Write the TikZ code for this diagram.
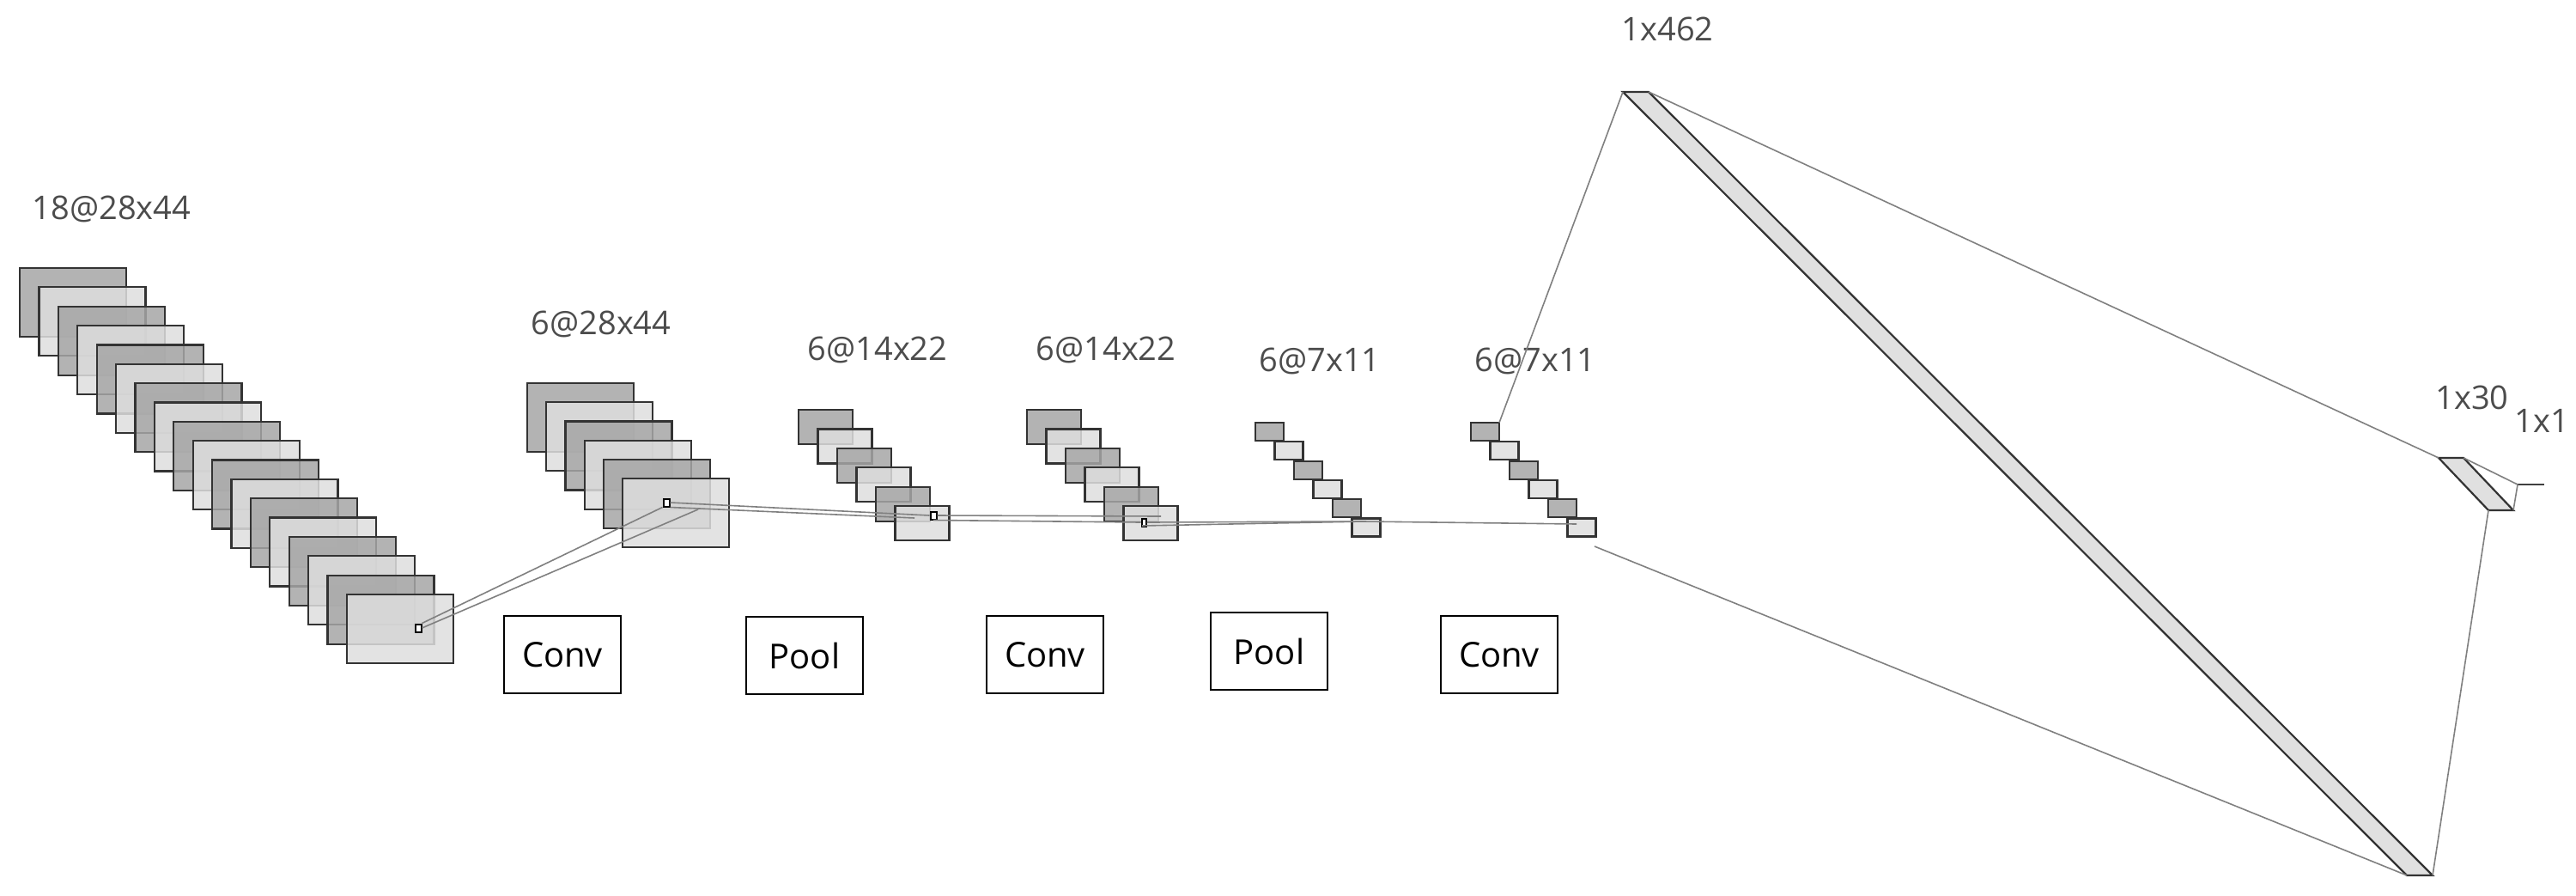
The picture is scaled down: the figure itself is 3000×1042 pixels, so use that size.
\documentclass[tikz,border=0pt]{standalone}
\usepackage{fontspec}
\setmainfont{Open Sans}
\begin{document}
\begin{tikzpicture}[x=1pt,y=-1pt,
  fm/.style={draw=black!80,line width=2.2pt,inner sep=0,outer sep=0,anchor=north west,fill opacity=0.85},
  dk/.style={fm,fill=black!35},
  lt/.style={fm,fill=black!13},
  lab/.style={text=black!70,font=\fontsize{38}{44}\selectfont},
  op/.style={draw=black,line width=2pt,minimum width=136pt,minimum height=90pt,font=\fontsize{40}{46}\selectfont,inner sep=0},
  cn/.style={draw=black!50,line width=1.6pt},
  sq/.style={draw=black,line width=2pt,inner sep=0,minimum width=7pt,minimum height=9pt,fill=white}]
\useasboundingbox (0,0) rectangle (3000,1042);
\newcommand{\fmap}[9]{%
  \foreach \i in {0,...,#2}{%
    \ifodd\i\relax
      \node[lt,minimum width=#7pt,minimum height=#8pt] (#1-\i) at ({#3+#5*\i},{#4+#6*\i}) {};
    \else
      \node[#9,minimum width=#7pt,minimum height=#8pt] (#1-\i) at ({#3+#5*\i},{#4+#6*\i}) {};
    \fi}}
\fmap{a}{17}{23}{312}{22.4}{22.35}{124}{80}{dk}
\fmap{b}{5}{614}{446}{22.2}{22.2}{124}{80}{dk}
\fmap{c}{5}{930}{477}{22.5}{22.4}{63}{40}{dk}
\fmap{d}{5}{1196}{477}{22.5}{22.4}{63}{40}{dk}
\fmap{e}{5}{1462}{492}{22.5}{22.3}{33}{21}{dk}
\fmap{f}{5}{1713}{492}{22.5}{22.3}{33}{21}{dk}
\node[lab] (la) at (130,243) {18@28x44};
\node[lab] (lb) at (700,377) {6@28x44};
\node[lab] (lc) at (1022,407) {6@14x22};
\node[lab] (ld) at (1288,407) {6@14x22};
\node[lab] (le) at (1537,420) {6@7x11};
\node[lab] (lf) at (1788,420) {6@7x11};
\node[lab] (lg) at (1942,34) {1x462};
\node[lab] (lh) at (2879,463) {1x30};
\node[lab] (li) at (2960,490) {1x1};
% kernel squares
\node[sq] (sa) at (487,731) {};
\node[sq] (sb) at (776,585) {};
\node[sq] (sc) at (1087,600) {};
\node[sq,minimum width=5pt] (sd) at (1332,608) {};
\coordinate (pb) at (813,593);
\coordinate (pc) at (1065,603);
\coordinate (pd) at (1352,601);
\coordinate (pe) at (1588,607);
\coordinate (pf) at (1836,610);
\draw[cn] (sa.north east) -- (sb.south west);
\draw[cn] (sa.east) -- (pb);
\draw[cn] (sb.east) -- (sc.west);
\draw[cn] (sb.south east) -- (pc);
\draw[cn] (sc.east) -- (pd);
\draw[cn] (sc.south) -- (sd.west);
\draw[cn] (sd.east) -- (pe);
\draw[cn] (pe) -- (pf);
\draw[cn] (1330,612) -- (pe);
% dense layers
\coordinate (g1) at (1890,107); \coordinate (g2) at (1920,107);
\coordinate (g3) at (2833,1019); \coordinate (g4) at (2803,1019);
\draw[fill=black!12,draw=black!80,line width=2.2pt] (g1) -- (g2) -- (g3) -- (g4) -- cycle;
\coordinate (h1) at (2840,533); \coordinate (h2) at (2869,533);
\coordinate (h3) at (2927,594); \coordinate (h4) at (2898,594);
\draw[fill=black!12,draw=black!80,line width=2.2pt] (h1) -- (h2) -- (h3) -- (h4) -- cycle;
\coordinate (i1) at (2932,564); \coordinate (i2) at (2963,564);
\draw[draw=black!75,line width=2.6pt] (i1) -- (i2);
\coordinate (fs) at (1857,636);
\draw[cn] (f-0.north east) -- (g1);
\draw[cn] (fs) -- (g4);
\draw[cn] (g2) -- (h1);
\draw[cn] (g3) -- (h4);
\draw[cn] (h2) -- (i1);
\draw[cn] (h3) -- (i1);
% operation boxes
\node[op] (o1) at (655,762) {Conv};
\node[op] (o2) at (937,763) {Pool};
\node[op] (o3) at (1217,762) {Conv};
\node[op] (o4) at (1478,758) {Pool};
\node[op] (o5) at (1746,762) {Conv};
\end{tikzpicture}
\end{document}
